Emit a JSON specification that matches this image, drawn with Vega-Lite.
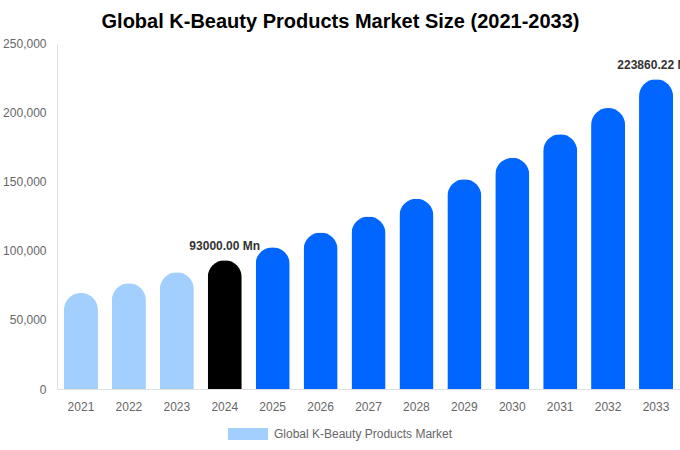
{
  "$schema": "https://vega.github.io/schema/vega-lite/v6.json",
  "width": 623,
  "height": 346,
  "autosize": {"type": "none"},
  "padding": {"left": 57, "top": 43, "right": 0, "bottom": 61},
  "background": "white",
  "title": {
    "text": "Global K-Beauty Products Market Size (2021-2033)",
    "font": "Liberation Sans",
    "fontSize": 20,
    "fontWeight": "bold",
    "color": "#000000",
    "anchor": "middle",
    "dx": -28,
    "offset": 5
  },
  "config": {
    "view": {"stroke": null},
    "font": "Liberation Sans"
  },
  "data": {
    "values": [
      {"year": "2021", "value": 69400, "phase": "historical"},
      {"year": "2022", "value": 76400, "phase": "historical"},
      {"year": "2023", "value": 84300, "phase": "historical"},
      {"year": "2024", "value": 93000, "phase": "base"},
      {"year": "2025", "value": 102500, "phase": "forecast"},
      {"year": "2026", "value": 113000, "phase": "forecast"},
      {"year": "2027", "value": 124600, "phase": "forecast"},
      {"year": "2028", "value": 137400, "phase": "forecast"},
      {"year": "2029", "value": 151500, "phase": "forecast"},
      {"year": "2030", "value": 167000, "phase": "forecast"},
      {"year": "2031", "value": 184100, "phase": "forecast"},
      {"year": "2032", "value": 203000, "phase": "forecast"},
      {"year": "2033", "value": 223860.22, "phase": "forecast"}
    ]
  },
  "encoding": {
    "x": {
      "field": "year",
      "type": "ordinal",
      "title": null,
      "scale": {"paddingInner": 0.29, "paddingOuter": 0.145},
      "axis": {
        "labelAngle": 0,
        "ticks": false,
        "labelPadding": 12,
        "labelFontSize": 12,
        "labelColor": "#666666",
        "domainColor": "#e0e0e0",
        "grid": false
      }
    },
    "y": {
      "field": "value",
      "type": "quantitative",
      "title": null,
      "scale": {"domain": [0, 250000]},
      "axis": {
        "values": [0, 50000, 100000, 150000, 200000, 250000],
        "format": ",d",
        "ticks": false,
        "labelPadding": 11,
        "labelFontSize": 12,
        "labelColor": "#666666",
        "domainColor": "#e0e0e0",
        "grid": false
      }
    }
  },
  "layer": [
    {
      "mark": {"type": "bar", "cornerRadiusEnd": 17.5},
      "encoding": {
        "color": {
          "field": "phase",
          "type": "nominal",
          "scale": {
            "domain": ["historical", "base", "forecast"],
            "range": ["#a3cfff", "#000000", "#0066ff"]
          },
          "legend": {
            "values": ["historical"],
            "labelExpr": "'Global K-Beauty Products Market'",
            "title": null,
            "orient": "none",
            "legendX": 171,
            "legendY": 371,
            "padding": 0,
            "symbolType": "M-1,-0.3H1V0.3H-1Z",
            "symbolSize": 1600,
            "symbolStrokeWidth": 0,
            "labelFontSize": 12,
            "labelLimit": 400,
            "labelColor": "#666666",
            "labelOffset": 6
          }
        }
      }
    },
    {
      "transform": [
        {"filter": "datum.year == '2024' || datum.year == '2033'"},
        {"calculate": "format(datum.value, '.2f') + ' Mn'", "as": "label"}
      ],
      "mark": {
        "type": "text",
        "baseline": "bottom",
        "dy": -7,
        "fontSize": 12,
        "fontWeight": "bold",
        "color": "#333333"
      },
      "encoding": {
        "text": {"field": "label"}
      }
    }
  ]
}
